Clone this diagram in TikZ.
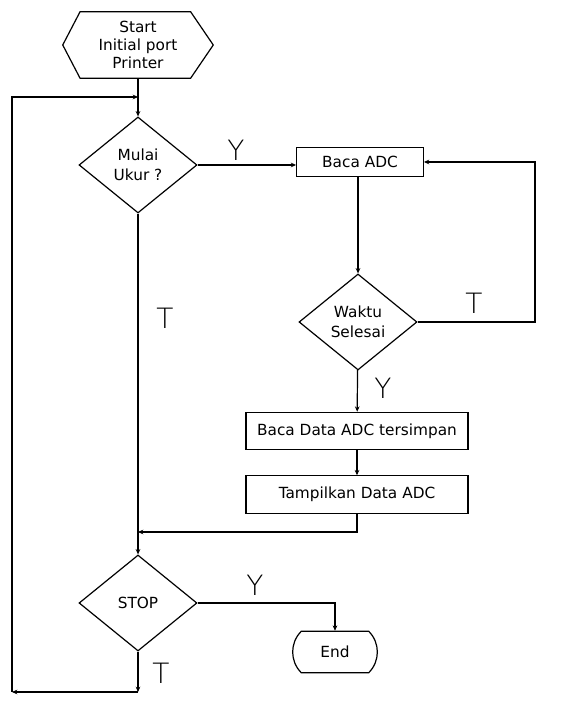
\documentclass[tikz,border=0pt]{standalone}
\usepackage{fontspec}
\setmainfont{DejaVu Sans}
\newfontfamily\thinfont{DejaVu Sans ExtraLight}
\usetikzlibrary{arrows.meta,positioning,shapes.geometric,shapes.misc}
\tikzset{
  box/.style={draw, line width=0.9pt, align=center, font=\fontsize{11.5}{15}\selectfont, inner sep=2pt},
  process/.style={box, rectangle, minimum width=166.5pt, minimum height=28pt},
  decision/.style={box, diamond, inner sep=0pt, minimum width=88.5pt, minimum height=72pt},
  terminal/.style={box, rounded rectangle, rounded rectangle arc length=90, minimum width=67.5pt, minimum height=31pt},
  hexa/.style={align=center, font=\fontsize{11.5}{13.5}\selectfont, inner sep=0pt, minimum width=112.5pt, minimum height=49.5pt},
  line/.style={line width=0.9pt},
  arrow/.style={-{Stealth[length=4pt,width=3.5pt]}, line width=0.9pt},
  label/.style={font=\thinfont\fontsize{21}{21}\selectfont, inner sep=0pt}
}
\begin{document}
\begin{tikzpicture}[x=0.75pt, y=0.75pt]
\useasboundingbox (0,0) rectangle (566,713);
\node[hexa] (start) at (138,668) {Start\\Initial port\\Printer};
\draw[line] (start.west) -- ([xshift=13pt]start.north west) -- ([xshift=-17pt]start.north east) -- (start.east)
  -- ([xshift=-17pt]start.south east) -- ([xshift=13pt]start.south west) -- cycle;
\node[decision] (mulai) at (138,548) {Mulai\\Ukur ?};
\node[box, minimum width=95pt, minimum height=22pt] (baca) at (360,551) {Baca ADC};
\node[decision] (waktu) at (358,391) {Waktu\\Selesai};
\node[process] (simpan) at (357,282) {Baca Data ADC tersimpan};
\node[process, below=18.75pt of simpan] (tampil) {Tampilkan Data ADC};
\node[decision] (stop) at (138,110) {STOP};
\node[terminal] (end) at (335,61) {End};
\coordinate (m1) at (138,616);
\coordinate (m2) at (138,181);
\coordinate (m3) at (138,21);
\coordinate (m4) at (12,21);
\coordinate (r1) at (535,391);
% connectors
\draw[line] (start) -- (m1);
\draw[arrow] (m1) -- (mulai);
\draw[arrow] (mulai.east) -- (mulai.east -| baca.west);
\draw[arrow] (baca.south -| waktu.north) -- (waktu.north);
\draw[arrow] (waktu.east) -- (r1) |- (baca.east);
\draw[arrow] (waktu) -- (simpan);
\draw[arrow] (simpan) -- (tampil);
\draw[arrow] (tampil.south) |- (m2);
\draw[line] (mulai) -- (m2);
\draw[arrow] (m2) -- (stop);
\draw[arrow] (stop.east) -| (end.north);
\draw[arrow] (stop) -- (m3);
\draw[arrow] (m3) -- (m4);
\draw[arrow] (m4) |- (m1);
% labels
\node[label] (y1) at (236,563) {Y};
\node[label] (t1) at (165,395) {T};
\node[label] (t2) at (474,410) {T};
\node[label] (y2) at (383,325) {Y};
\node[label] (y3) at (255,128) {Y};
\node[label] (t3) at (161,40) {T};
\end{tikzpicture}
\end{document}
